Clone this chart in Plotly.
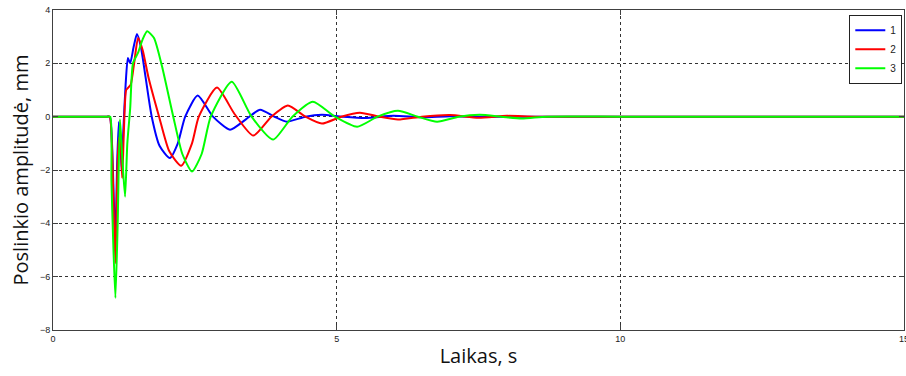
import plotly.graph_objects as go

# Series 1 (blue)
t_1 = [0, 0.5, 0.95, 1.00, 1.04, 1.07, 1.10, 1.13, 1.16, 1.19, 1.21, 1.24, 1.28, 1.32, 1.36, 1.42, 1.48,
       1.55, 1.63, 1.74, 1.88, 2.06, 2.20, 2.33, 2.55, 2.82, 3.12, 3.40, 3.65, 3.90, 4.12,
       4.45, 4.74, 5.10, 5.50, 6.00, 6.50, 7.00, 7.50, 8.50, 10, 12, 15]
v_1 = [0, 0, 0, 0, -1.0, -3.0, -4.6, -1.8, -0.2, -1.0, -2.0, -0.5, 1.2, 2.2, 2.0, 2.6, 3.1,
       2.6, 1.5, 0, -1.1, -1.55, -1.0, 0, 0.79, 0, -0.49, -0.1, 0.26, 0, -0.19,
       0, 0.07, 0, -0.05, 0.03, -0.02, 0.02, 0, 0, 0, 0, 0]

# Series 2 (red)
t_2 = [0, 0.5, 0.95, 1.00, 1.04, 1.07, 1.10, 1.13, 1.16, 1.19, 1.22, 1.25, 1.29, 1.33, 1.37, 1.43, 1.50,
       1.58, 1.68, 1.87, 2.05, 2.26, 2.45, 2.57, 2.89, 3.20, 3.53, 3.85, 4.14, 4.45, 4.74,
       5.08, 5.41, 5.75, 6.08, 6.50, 7.00, 7.50, 8.00, 8.50, 10, 12, 15]
v_2 = [0, 0, 0, 0, -1.2, -3.5, -5.5, -2.5, -0.8, -1.0, -2.3, -0.5, 1.0, 1.1, 1.2, 2.0, 2.95,
       2.5, 1.5, 0, -1.3, -1.84, -1.0, 0, 1.09, 0.1, -0.71, 0, 0.42, 0, -0.26,
       0, 0.15, 0, -0.11, 0, 0.06, -0.04, 0.03, 0, 0, 0, 0]

# Series 3 (green)
t_3 = [0, 0.5, 0.96, 1.01, 1.03, 1.06, 1.10, 1.14, 1.18, 1.22, 1.27, 1.31, 1.36, 1.41, 1.50, 1.58, 1.66,
       1.78, 1.92, 2.12, 2.28, 2.45, 2.62, 2.78, 3.15, 3.50, 3.88, 4.22, 4.58, 4.97, 5.36,
       5.72, 6.08, 6.43, 6.77, 7.15, 7.52, 7.90, 8.26, 8.70, 10, 12, 15]
v_3 = [0, 0, 0, 0, -2.4, -4.6, -6.8, -4.0, -0.1, -1.5, -3.0, -1.0, 0.3, 2.0, 2.4, 2.9, 3.2,
       2.95, 1.9, 0, -1.4, -2.06, -1.4, 0, 1.31, 0, -0.86, 0, 0.56, 0, -0.38,
       0, 0.22, 0, -0.19, 0, 0.07, 0, -0.07, 0, 0, 0, 0]

names = ["1", "2", "3"]
x_ticks = [0, 5, 10, 15]
y_ticks = [-8, -6, -4, -2, 0, 2, 4]

fig = go.Figure()
for t, v, name, col in [(t_1, v_1, names[0], "#0000FF"),
                        (t_2, v_2, names[1], "#FF0000"),
                        (t_3, v_3, names[2], "#00FF00")]:
    fig.add_trace(go.Scatter(x=t, y=v, mode="lines", name=name,
                             line=dict(color=col, width=2, shape="spline", smoothing=0.6)))

axis_common = dict(showline=True, linecolor="#404040", linewidth=1, mirror="ticks",
                   ticks="inside", ticklen=5, tickcolor="#404040",
                   showgrid=True, gridcolor="#333333", gridwidth=1, griddash="3px,3px",
                   zeroline=False, automargin=False, ticklabeloverflow="allow",
                   tickfont=dict(family="Liberation Sans", size=9, color="#222222"))

fig.update_xaxes(range=[0, 15], tickvals=x_ticks, **axis_common,
                 title=dict(text="Laikas, s", font=dict(family="Open Sans", size=20, color="#111111"),
                            standoff=6))
fig.update_yaxes(range=[-8, 4], tickvals=y_ticks, **axis_common,
                 title=dict(text="Poslinkio amplitudė, mm",
                            font=dict(family="Open Sans", size=20, color="#111111"), standoff=5))

fig.update_layout(
    width=906, height=376,
    margin=dict(l=53, r=2, t=10, b=46),
    plot_bgcolor="white", paper_bgcolor="white",
    legend=dict(x=0.998, y=0.985, xanchor="right", yanchor="top",
                bgcolor="white", bordercolor="#222222", borderwidth=1,
                font=dict(family="Liberation Sans", size=10, color="#222222"),
                tracegroupgap=0),
    showlegend=True,
)

fig.write_html("out.html", config={"displayModeBar": False},
               post_script="document.body.style.margin='0';")
